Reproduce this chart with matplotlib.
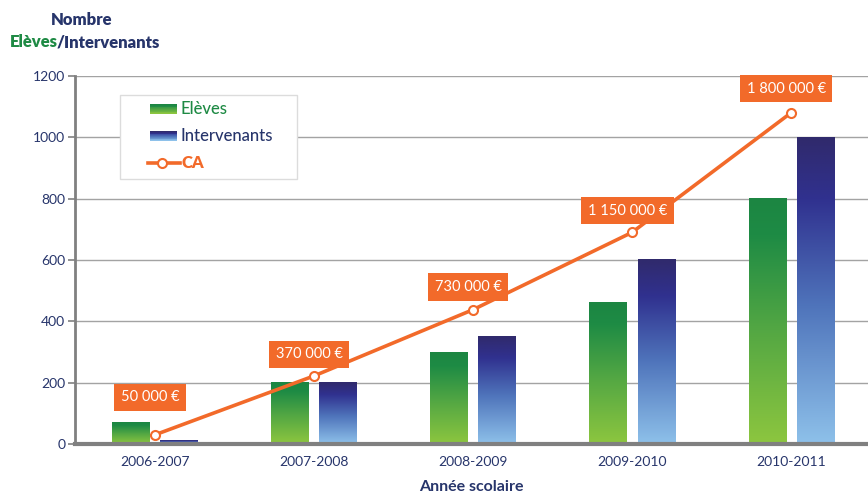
import matplotlib
matplotlib.use("Agg")
from matplotlib import pyplot as plt
from matplotlib.colors import LinearSegmentedColormap
from matplotlib.patches import Rectangle
from matplotlib.lines import Line2D
import numpy as np

plt.rcParams['font.family'] = ['Lato', 'DejaVu Sans']

# data
annees = ["2006-2007", "2007-2008", "2008-2009", "2009-2010", "2010-2011"]
eleves = [70, 200, 300, 460, 800]
intervenants = [10, 200, 350, 600, 1000]
ca = [50000, 370000, 730000, 1150000, 1800000]
ca_labels = ["50 000 €", "370 000 €", "730 000 €", "1 150 000 €", "1 800 000 €"]
label_y = [153, 293, 512, 760, 1158]

NAVY = "#27356b"
GREEN = "#1e8a44"
ORANGE = "#f26a2a"
GRID = "#a3a3a3"

# line is drawn at CA scaled onto the left axis
ca_scale = 0.0006

green_cmap = LinearSegmentedColormap.from_list(
    "g", [(0, "#8dc63f"), (0.45, "#55a843"), (0.85, "#1e8b45"), (1, "#1c8642")])
blue_cmap = LinearSegmentedColormap.from_list(
    "b", [(0, "#8ec1ea"), (0.45, "#4f74bb"), (0.8, "#30318f"), (1, "#302a6c")])

fig = plt.figure(figsize=(8.68, 4.97), dpi=100)
ax = fig.add_axes([75 / 868, 53 / 497, 793 / 868, 368 / 497])

x = np.arange(len(annees))
width = 0.233
off = 0.151
grad = np.linspace(0, 1, 256).reshape(-1, 1)


def gradient_bar(xc, h, cmap):
    if h <= 0:
        return
    ax.imshow(grad, extent=[xc - width / 2, xc + width / 2, 0, h], origin="lower",
              aspect="auto", cmap=cmap, zorder=2, interpolation="bilinear")


for i in range(len(annees)):
    gradient_bar(x[i] - off, eleves[i], green_cmap)
    gradient_bar(x[i] + off, intervenants[i], blue_cmap)

ca_y = [v * ca_scale for v in ca]
ax.plot(x, ca_y, color=ORANGE, lw=2.6, zorder=4, marker="o", ms=6.5,
        mfc="white", mec=ORANGE, mew=1.5)

for i in range(len(annees)):
    ax.text(x[i] - 0.03, label_y[i], ca_labels[i], ha="center", va="center",
            color="white", fontsize=10.5, zorder=5,
            bbox=dict(boxstyle="square,pad=0.45", fc=ORANGE, ec="none"))

ax.set_xlim(-0.503, 4.484)
ax.set_ylim(0, 1200)
ax.set_yticks(range(0, 1201, 200))
ax.set_xticks(x)
ax.set_xticklabels(annees)
ax.yaxis.grid(True, color=GRID, lw=1)
ax.set_axisbelow(True)
for s in ["top", "right"]:
    ax.spines[s].set_visible(False)
ax.spines["left"].set_color("#808080")
ax.spines["left"].set_linewidth(2)
ax.spines["bottom"].set_color("#808080")
ax.spines["bottom"].set_linewidth(3)
ax.spines["bottom"].set_zorder(6)
ax.tick_params(axis="y", colors="#808080", labelcolor=NAVY, labelsize=10, length=5,
               width=1.2, pad=2)
ax.tick_params(axis="x", length=0, labelcolor=NAVY, labelsize=10, pad=9)

ax.set_xlabel("Année scolaire", color=NAVY, fontsize=11.5, fontweight="bold", labelpad=8)

# titles
fig.text(82 / 868, 1 - 20 / 497, "Nombre", color=NAVY, fontsize=12,
         fontweight="heavy", ha="center", va="center")
t1 = fig.text(10 / 868, 1 - 42 / 497, "Elèves", color=GREEN, fontsize=12,
              fontweight="heavy", ha="left", va="center")
fig.canvas.draw()
bb = t1.get_window_extent()
fig.text((bb.x1 - 1) / 868, 1 - 42 / 497, "/Intervenants", color=NAVY, fontsize=12,
         fontweight="heavy", ha="left", va="center")

# legend drawn by hand
ax.add_patch(Rectangle((45 / 793, (444 - 179) / 368), 177 / 793, 84 / 368,
                       transform=ax.transAxes, fc="white", ec="#dcdcdc", lw=1, zorder=7))


def legend_grad(xa, ya, cmap):
    n = 12
    h = 10 / 368
    for k in range(n):
        ax.add_patch(Rectangle((xa, ya - h / 2 + k * h / n), 27 / 793, h / n,
                               transform=ax.transAxes, fc=cmap(k / (n - 1)),
                               ec="none", zorder=8))


items = [("Elèves", GREEN, green_cmap, "medium"), ("Intervenants", NAVY, blue_cmap, "medium"),
         ("CA", ORANGE, None, "heavy")]
for k, (lab, col, cm, wt) in enumerate(items):
    yy = (444 - (109 + 27 * k)) / 368
    if cm is not None:
        legend_grad(75 / 793, yy, cm)
    else:
        ax.add_line(Line2D([73 / 793, 105 / 793], [yy, yy], transform=ax.transAxes,
                           color=ORANGE, lw=2.6, zorder=8))
        ax.add_line(Line2D([87 / 793], [yy], transform=ax.transAxes, marker="o",
                           ms=6.5, mfc="white", mec=ORANGE, mew=1.5, zorder=9))
    ax.text(106 / 793, yy, lab, transform=ax.transAxes, color=col, fontsize=12,
            fontweight=wt, va="center", ha="left", zorder=9)

fig.savefig("out.png", dpi=100)
